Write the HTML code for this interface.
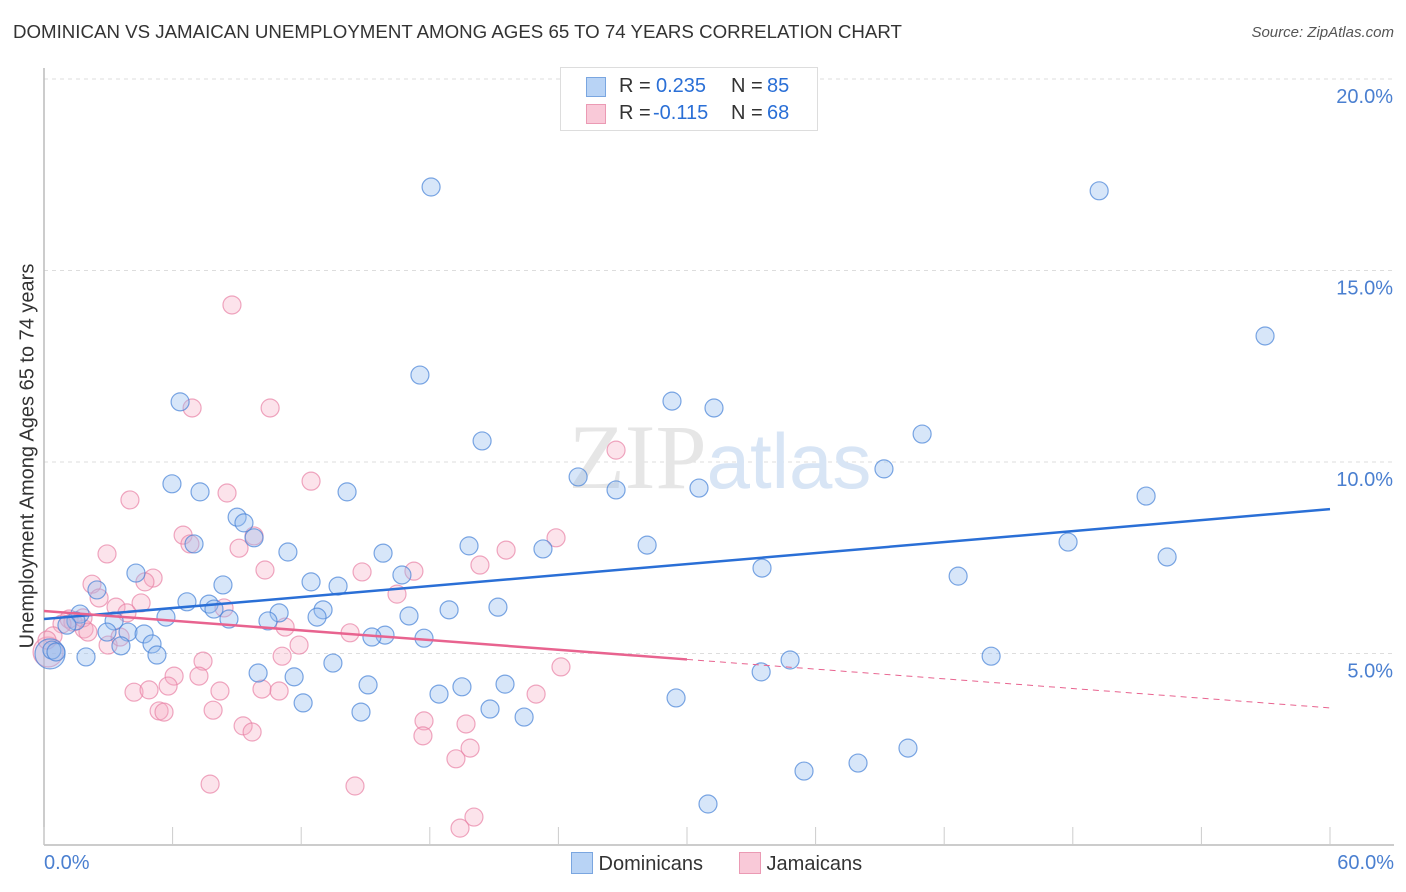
<!DOCTYPE html>
<html><head><meta charset="utf-8"><style>
body{margin:0;background:#fff;font-family:"Liberation Sans",sans-serif;}
#wrap{position:relative;width:1406px;height:892px;overflow:hidden;}
</style></head><body>
<div id="wrap">
<div style="position:absolute;left:13px;top:21px;font-size:18.7px;color:#333;">DOMINICAN VS JAMAICAN UNEMPLOYMENT AMONG AGES 65 TO 74 YEARS CORRELATION CHART</div>
<div style="position:absolute;right:12px;top:24px;font-size:15px;color:#555;font-style:italic">Source: ZipAtlas.com</div>
<svg id="svg" width="1406" height="892" style="position:absolute;left:0;top:0"></svg>
</div>
<script>
const xTicks=[0,6,12,18,24,30,36,42,48,54,60];
const yTicks=[5,10,15,20];
const yTickLabels=["5.0%","10.0%","15.0%","20.0%"];
const domX=[0.28,0.37,49.23,56.97,17.54,6.35,29.30,31.26,40.97,20.44,39.19,24.92,5.97,26.69,30.56,7.28,14.14,51.42,9.01,9.33,9.80,7.00,19.83,23.28,28.14,47.78,11.38,15.82,52.40,4.29,33.50,16.70,42.65,12.46,13.72,8.35,2.47,6.67,7.70,7.93,21.18,18.90,1.68,5.69,13.02,17.03,10.97,8.63,10.45,12.74,3.27,1.49,1.07,2.94,3.92,4.67,15.91,15.30,17.73,5.04,3.59,5.27,0.56,1.96,13.48,44.19,34.81,33.46,9.99,11.67,21.51,15.12,18.43,19.50,12.09,29.49,20.81,14.79,22.40,40.31,35.46,37.98,30.98,18.06];
const domY=[4.99,5.09,17.08,13.29,12.27,11.57,11.59,11.41,10.73,10.55,9.82,9.61,9.43,9.27,9.32,9.22,9.22,9.11,8.56,8.41,8.02,7.86,7.81,7.73,7.83,7.91,7.65,7.62,7.52,7.10,7.23,7.05,7.02,6.87,6.76,6.79,6.66,6.35,6.29,6.16,6.21,6.14,6.03,5.95,6.14,5.98,6.06,5.90,5.85,5.95,5.85,5.85,5.74,5.56,5.56,5.51,5.48,5.43,5.40,5.25,5.20,4.96,5.04,4.91,4.75,4.93,4.83,4.52,4.49,4.39,4.20,4.18,3.94,4.13,3.71,3.84,3.55,3.47,3.34,2.53,1.93,2.14,1.07,17.18];
const jamX=[0.19,8.77,6.91,10.55,26.69,12.46,4.01,8.54,6.49,6.81,9.80,9.10,23.89,21.56,2.94,20.34,14.84,10.31,17.26,5.09,2.24,4.71,16.47,4.53,3.36,8.40,2.57,3.87,1.17,1.35,0.84,0.42,0.14,1.87,1.82,2.05,11.25,14.28,11.90,2.99,3.55,7.42,11.11,6.07,7.23,4.20,4.90,5.79,8.21,10.17,10.97,22.96,24.12,5.37,5.60,7.89,9.29,9.71,17.73,19.69,17.68,19.88,19.22,7.75,14.51,20.06,19.41];
const jamY=[5.04,14.10,11.41,11.41,10.31,9.50,9.01,9.19,8.09,7.86,8.07,7.75,8.02,7.70,7.60,7.31,7.13,7.18,7.15,6.97,6.81,6.87,6.55,6.32,6.21,6.19,6.45,6.06,5.90,5.82,5.77,5.46,5.35,5.64,5.93,5.56,5.69,5.54,5.22,5.22,5.43,4.80,4.93,4.41,4.41,3.99,4.05,4.15,4.02,4.07,4.02,3.94,4.65,3.50,3.47,3.52,3.11,2.95,3.24,3.16,2.85,2.53,2.25,1.59,1.54,0.73,0.44];
const domLine=[5.90,8.77];
const jamLine=[6.11,3.58];
const jamSolidEnd=30;

const X0=44,X1=1330,Y0=845,PER=38.3;
const sx=v=>X0+(v/60)*(X1-X0);
const sy=v=>Y0-v*PER;
const svg=document.getElementById('svg');
const NS='http://www.w3.org/2000/svg';
function mk(tag,attrs,parent){const e=document.createElementNS(NS,tag);for(const k in attrs)e.setAttribute(k,attrs[k]);(parent||svg).appendChild(e);return e;}

yTicks.forEach((t,i)=>{
  const g=mk('line',{x1:X0,x2:1394,y1:sy(t),y2:sy(t),stroke:'#ddd','stroke-dasharray':'4,4','stroke-width':1});
  
  
  const tx=mk('text',{x:1393,y:sy(t)+24,'text-anchor':'end','font-size':20,fill:'#4a7fd0','font-family':'Liberation Sans, sans-serif'});
  tx.textContent=yTickLabels[i];
  
  
});
const ax=mk('line',{x1:X0,x2:1394,y1:Y0,y2:Y0,stroke:'#bbb','stroke-width':1.5});


const ay=mk('line',{x1:X0,x2:X0,y1:68,y2:Y0,stroke:'#bbb','stroke-width':1.5});


xTicks.forEach(t=>{
  const l=mk('line',{x1:sx(t),x2:sx(t),y1:Y0-18,y2:Y0,stroke:'#ccc','stroke-width':1});
  
  
});
const wm=mk('text',{x:720,y:488,'text-anchor':'middle','font-size':92,fill:'#e6e6e6','font-family':'Liberation Serif, serif'});
wm.innerHTML='ZIP<tspan fill="#d8e5f5" font-family="Liberation Sans, sans-serif" font-size="78">atlas</tspan>';



function pts(xs,ys,fill,stroke,name){
  xs.forEach((x,i)=>{
    const r=(i===0)?15:9;
    const c=mk('circle',{cx:sx(x),cy:sy(ys[i]),r:r,fill:fill,stroke:stroke,'stroke-width':1.2});
    
    
  });
}
pts(jamX,jamY,'rgba(245,170,195,0.33)','rgba(232,130,165,0.7)','jamaican-point');
pts(domX,domY,'rgba(150,190,240,0.38)','rgba(70,130,215,0.7)','dominican-point');

const bl=mk('line',{x1:sx(0),y1:sy(domLine[0]),x2:sx(60),y2:sy(domLine[1]),stroke:'#2a6fd6','stroke-width':2.5});


const jv=x=>jamLine[0]+(jamLine[1]-jamLine[0])*x/60;
const pl=mk('line',{x1:sx(0),y1:sy(jv(0)),x2:sx(jamSolidEnd),y2:sy(jv(jamSolidEnd)),stroke:'#e8638f','stroke-width':2.5});


const pd=mk('line',{x1:sx(jamSolidEnd),y1:sy(jv(jamSolidEnd)),x2:sx(60),y2:sy(jv(60)),stroke:'#e8638f','stroke-width':1,'stroke-dasharray':'6,5'});


</script>
<div style="position:absolute;left:560px;top:67px;width:256px;height:62px;border:1px solid #ddd;background:#fff;font-size:20px;color:#333">
 <div style="position:absolute;left:26px;top:7px;white-space:pre"><span style="display:inline-block;width:18px;height:18px;background:#b8d3f5;border:1px solid #7aa6e0;position:absolute;left:-1px;top:2px"></span><span style="position:absolute;left:32px">R =</span><span style="position:absolute;left:69px;color:#2a6fd6">0.235</span><span style="position:absolute;left:144px">N =</span><span style="position:absolute;left:180px;color:#2a6fd6">85</span></div>
 <div style="position:absolute;left:26px;top:34px;white-space:pre"><span style="display:inline-block;width:18px;height:18px;background:#f9c9d8;border:1px solid #eb9ab4;position:absolute;left:-1px;top:2px"></span><span style="position:absolute;left:32px">R =</span><span style="position:absolute;left:66px;color:#2a6fd6">-0.115</span><span style="position:absolute;left:144px">N =</span><span style="position:absolute;left:180px;color:#2a6fd6">68</span></div>
</div>
<div style="position:absolute;left:28px;top:456px;transform:translate(-50%,-50%) rotate(-90deg);white-space:nowrap;font-size:20px;color:#333">Unemployment Among Ages 65 to 74 years</div>
<div style="position:absolute;left:44px;top:852px;font-size:20px;color:#4a7fd0">0.0%</div>
<div style="position:absolute;right:12px;top:852px;font-size:20px;color:#4a7fd0">60.0%</div>
<div style="position:absolute;left:571px;top:852px;font-size:20px;color:#333">
 <span style="position:absolute;left:0;white-space:nowrap"><span style="display:inline-block;width:20px;height:20px;background:#b8d3f5;border:1px solid #7aa6e0;vertical-align:-4px"></span> Dominicans</span>
 <span style="position:absolute;left:168px;white-space:nowrap"><span style="display:inline-block;width:20px;height:20px;background:#f9c9d8;border:1px solid #eb9ab4;vertical-align:-4px"></span> Jamaicans</span>
</div>
</body></html>
